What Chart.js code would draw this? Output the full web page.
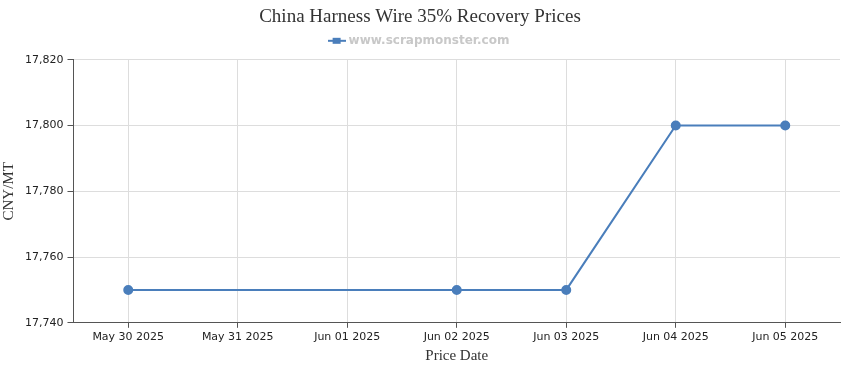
<!DOCTYPE html>
<html>
<head>
<meta charset="utf-8">
<script src="https://cdn.jsdelivr.net/npm/chart.js@4/dist/chart.umd.min.js"></script>
<style>
  html, body { margin: 0; padding: 0; background: #fff; }
  #wrap { width: 850px; height: 370px; position: relative; }
</style>
</head>
<body>
<div id="wrap"><canvas id="priceChart"></canvas></div>
<script>
// datos del gráfico
const fechas = ['May 30 2025', 'May 31 2025', 'Jun 01 2025', 'Jun 02 2025', 'Jun 03 2025', 'Jun 04 2025', 'Jun 05 2025'];
const precios = [17750, null, null, 17750, 17750, 17800, 17800];
const ejeY = { min: 17740, max: 17820, paso: 20 };

const azul = '#4a7ebb';

// icono de la leyenda: línea con un cuadrado en medio
function iconoLeyenda() {
    const c = document.createElement('canvas');
    c.width = 18; c.height = 8;
    const g = c.getContext('2d');
    g.fillStyle = azul;
    g.fillRect(0, 3, 18, 2);
    g.fillRect(5, 1, 8, 6);
    return c;
}

// espacio extra debajo de la leyenda
const espacioLeyenda = {
    id: 'espacioLeyenda',
    beforeInit(chart) {
        const fitOriginal = chart.legend.fit;
        chart.legend.fit = function () {
            fitOriginal.bind(this)();
            this.height += 3;
        };
    }
};

const ctx = document.getElementById('priceChart').getContext('2d');
new Chart(ctx, {
    type: 'line',
    data: {
        labels: fechas,
        datasets: [{
            label: 'www.scrapmonster.com',
            data: precios,
            borderColor: azul,
            backgroundColor: azul,
            borderWidth: 2,
            pointRadius: 4,
            pointHoverRadius: 4,
            spanGaps: true,
            tension: 0
        }]
    },
    options: {
        responsive: true,
        maintainAspectRatio: false,
        animation: false,
        layout: { padding: { left: 0, right: 10, top: 4, bottom: 5 } },
        scales: {
            x: {
                offset: true,
                grid: { offset: false, color: '#dddddd', tickLength: 5, tickColor: '#555' },
                border: { color: '#555', width: 1 },
                ticks: { color: '#222', font: { family: 'DejaVu Sans', size: 11 }, maxRotation: 0, padding: 3 },
                title: { display: true, text: 'Price Date', color: '#333', font: { family: 'Liberation Serif', size: 15 }, padding: { top: 0, bottom: 0 } }
            },
            y: {
                min: ejeY.min,
                max: ejeY.max,
                grid: { color: '#dddddd', tickLength: 6, tickColor: '#555' },
                border: { color: '#555', width: 1 },
                ticks: { stepSize: ejeY.paso, color: '#222', font: { family: 'DejaVu Sans', size: 11 }, padding: 4 },
                title: { display: true, text: 'CNY/MT', color: '#333', font: { family: 'Liberation Serif', size: 15 }, padding: { top: 0, bottom: 3 } }
            }
        },
        plugins: {
            title: {
                display: true,
                text: 'China Harness Wire 35% Recovery Prices',
                color: '#333',
                font: { family: 'Liberation Serif', size: 19, weight: 'normal' },
                padding: { top: 2, bottom: 0 }
            },
            legend: {
                labels: {
                    color: '#c8c8c8',
                    font: { family: 'DejaVu Sans', size: 12, weight: 'bold' },
                    usePointStyle: true,
                    boxHeight: 8,
                    padding: 6,
                    generateLabels: (chart) => {
                        const items = Chart.defaults.plugins.legend.labels.generateLabels(chart);
                        items.forEach(it => { it.pointStyle = iconoLeyenda(); it.fontColor = '#c8c8c8'; });
                        return items;
                    }
                }
            },
            tooltip: { enabled: false }
        }
    },
    plugins: [espacioLeyenda]
});
</script>
</body>
</html>
